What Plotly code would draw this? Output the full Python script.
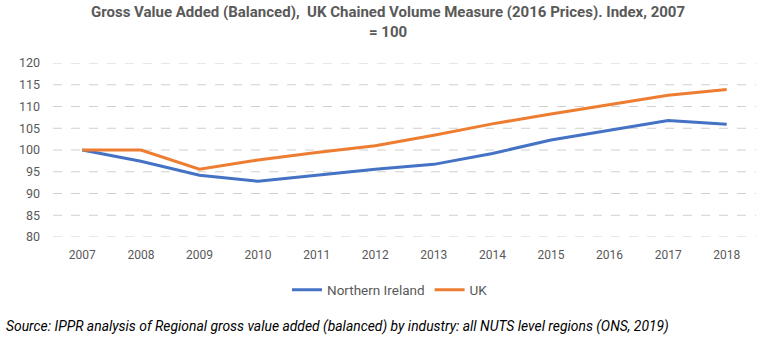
import plotly.graph_objects as go

years = ["2007", "2008", "2009", "2010", "2011", "2012", "2013", "2014", "2015", "2016", "2017", "2018"]
northern_ireland = [100, 97.4, 94.2, 92.8, 94.2, 95.6, 96.7, 99.2, 102.3, 104.6, 106.8, 105.9]
uk = [100, 100, 95.6, 97.7, 99.4, 101.0, 103.4, 106.0, 108.3, 110.4, 112.6, 113.9]
y_ticks = [80, 85, 90, 95, 100, 105, 110, 115, 120]

FONT = "Roboto, Arial, sans-serif"

fig = go.Figure()
fig.add_trace(go.Scatter(x=years, y=northern_ireland, mode="lines", name="Northern Ireland",
                         line=dict(color="#4472C4", width=3)))
fig.add_trace(go.Scatter(x=years, y=uk, mode="lines", name="UK",
                         line=dict(color="#ED7D31", width=3)))

for v in y_ticks:
    fig.add_shape(type="line", xref="paper", x0=0, x1=1, yref="y", y0=v, y1=v,
                  line=dict(color="#d0d0d0", width=1, dash="dash"), layer="below")

fig.update_layout(
    width=768, height=338,
    margin=dict(l=53, r=12, t=63, b=101),
    paper_bgcolor="white", plot_bgcolor="white",
    font=dict(family=FONT, size=12, color="#595959"),
    xaxis=dict(type="category", range=[-0.5, 11.5], showgrid=False, zeroline=False, showline=False,
               ticks="", ticklabelstandoff=9, tickfont=dict(size=12, color="#595959")),
    yaxis=dict(range=[80, 120], tickvals=y_ticks, showgrid=False, zeroline=False, showline=False,
               ticks="", ticklabelstandoff=12, tickfont=dict(size=12.5, color="#595959")),
    showlegend=True,
    legend=dict(orientation="h", x=(390 - 53) / 703, xanchor="center", y=-(290 - 237) / 174, yanchor="middle",
                font=dict(size=13.5, color="#595959"), itemwidth=30),
)

fig.add_annotation(text="<b>Gross Value Added (Balanced),  UK Chained Volume Measure (2016 Prices). Index, 2007<br>= 100</b>",
                   xref="paper", yref="paper", x=(388 - 53) / 703, y=1 + (63 - 22) / 174,
                   xanchor="center", yanchor="middle", showarrow=False, align="center",
                   font=dict(family=FONT, size=15, color="#595959"))

fig.add_annotation(text="<i>Source: IPPR analysis of Regional gross value added (balanced) by industry: all NUTS level regions (ONS, 2019)</i>",
                   xref="paper", yref="paper", x=-49 / 703, y=-(326 - 237) / 174, xanchor="left", yanchor="middle",
                   showarrow=False, font=dict(family=FONT, size=13.9, color="#000000"))

fig.write_html("out.html")
